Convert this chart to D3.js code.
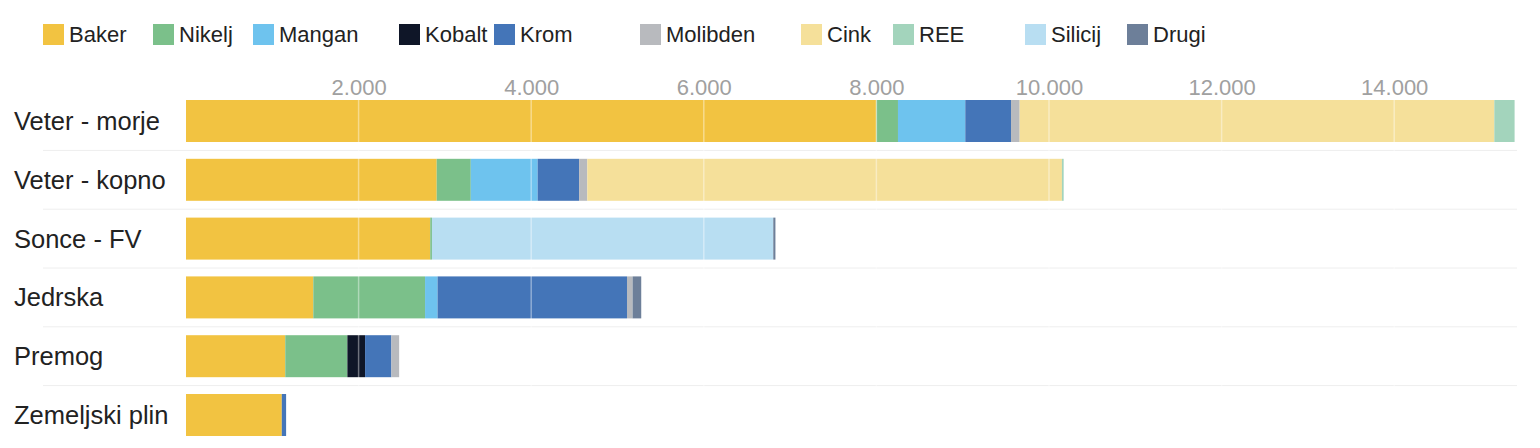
<!DOCTYPE html>
<html>
<head>
<meta charset="utf-8">
<script src="https://cdn.jsdelivr.net/npm/d3@7"></script>
<style>
  html, body { margin: 0; padding: 0; background: #ffffff; }
  svg { display: block; font-family: "Liberation Sans", Arial, sans-serif; }
</style>
</head>
<body>
<svg id="chart" width="1540" height="448"></svg>
<script>
// ---- data ----
const categories = ["Veter - morje", "Veter - kopno", "Sonce - FV", "Jedrska", "Premog", "Zemeljski plin"];
const minerals = ["Baker", "Nikelj", "Mangan", "Kobalt", "Krom", "Molibden", "Cink", "REE", "Silicij", "Drugi"];
const baker    = [8000, 2905, 2830, 1475, 1150, 1110];
const nikelj   = [ 250,  395,   20, 1295,  720,    0];
const mangan   = [ 780,  775,    0,  145,    0,    0];
const kobalt   = [   0,    0,    0,    0,  205,    0];
const krom     = [ 530,  480,    0, 2195,  305,   50];
const molibden = [ 100,   95,    0,   65,   90,    0];
const cink     = [5500, 5500,    0,    0,    0,    0];
const ree      = [ 235,   20,    0,    0,    0,    0];
const silicij  = [   0,    0, 3955,    0,    0,    0];
const drugi    = [   0,    0,   25,  100,    0,    0];
const tickValues = [2000, 4000, 6000, 8000, 10000, 12000, 14000];

// ---- styles ----
const colors = ["#F2C341", "#7BC08A", "#6EC3EE", "#0F1628", "#4475B8", "#B8BABE", "#F5E09A", "#A3D4BC", "#B8DEF2", "#6D7F99"];
const legendX = [43, 153, 253, 399, 494, 640, 801, 893, 1025, 1127];

const seriesValues = [baker, nikelj, mangan, kobalt, krom, molibden, cink, ree, silicij, drugi];
const rows = categories.map((c, i) => {
  const r = { category: c };
  minerals.forEach((m, j) => r[m] = seriesValues[j][i]);
  return r;
});

const svg = d3.select("#chart");
const x = d3.scaleLinear().domain([0, 16000]).range([186, 186 + 16 * 86.3]);
const y = d3.scaleBand().domain(categories).range([91.6, 91.6 + 6 * 58.8]).paddingInner(0.286).paddingOuter(0.143);
const color = d3.scaleOrdinal().domain(minerals).range(colors);

// row separators
const step = y.step();
svg.append("g").selectAll("line")
  .data(categories.slice(1))
  .join("line")
  .attr("x1", 43).attr("x2", 1517)
  .attr("y1", d => y(d) - (step - y.bandwidth()) / 2)
  .attr("y2", d => y(d) - (step - y.bandwidth()) / 2)
  .attr("stroke", "#eeeeee").attr("stroke-width", 1);

// stacked bars
const stack = d3.stack().keys(minerals);
const series = stack(rows);
svg.append("g").selectAll("g")
  .data(series)
  .join("g")
  .attr("fill", d => color(d.key))
  .selectAll("rect")
  .data(d => d.filter(s => s[1] > s[0]))
  .join("rect")
  .attr("x", d => x(d[0]))
  .attr("width", d => x(d[1]) - x(d[0]))
  .attr("y", d => y(d.data.category))
  .attr("height", y.bandwidth());

// gridlines over bars
svg.append("g").selectAll("line")
  .data(tickValues)
  .join("line")
  .attr("x1", d => x(d)).attr("x2", d => x(d))
  .attr("y1", 98).attr("y2", 440)
  .attr("stroke", "rgba(255,255,255,0.4)").attr("stroke-width", 1.5);

// top axis labels
const locale = d3.formatLocale({ decimal: ",", thousands: ".", grouping: [3], currency: ["", "€"] });
const fmt = locale.format(",d");
const axis = d3.axisTop(x).tickValues(tickValues).tickFormat(fmt).tickSize(0).tickPadding(0);
const axG = svg.append("g").attr("transform", "translate(0,95)").call(axis);
axG.select(".domain").remove();
axG.selectAll("text")
  .attr("font-size", 22)
  .attr("font-family", "Liberation Sans, Arial, sans-serif")
  .attr("fill", "#a0a0a0");

// category labels
svg.append("g").selectAll("text")
  .data(categories)
  .join("text")
  .attr("x", 14)
  .attr("y", d => y(d) + y.bandwidth() / 2 + 9)
  .attr("font-size", 25.5)
  .attr("fill", "#222")
  .text(d => d);

// legend
const lg = svg.append("g").selectAll("g")
  .data(minerals)
  .join("g")
  .attr("transform", (d, i) => `translate(${legendX[i]},24)`);
lg.append("rect").attr("width", 21).attr("height", 21).attr("fill", d => color(d));
lg.append("text").attr("x", 26).attr("y", 18).attr("font-size", 22).attr("fill", "#222").text(d => d);
</script>
</body>
</html>
